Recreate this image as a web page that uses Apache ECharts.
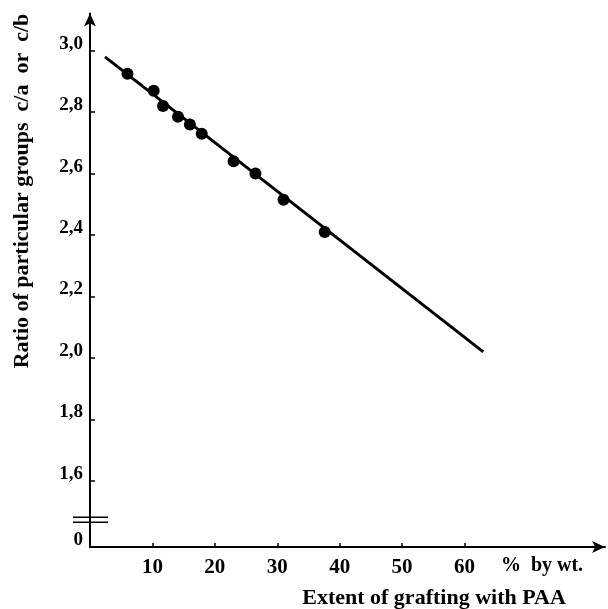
<!DOCTYPE html>
<html>
<head>
<meta charset="utf-8">
<script src="https://cdn.jsdelivr.net/npm/echarts@6/dist/echarts.min.js"></script>
<style>
  html, body { margin: 0; padding: 0; background: #fff; }
  #main { width: 608px; height: 609px; }
</style>
</head>
<body>
<div id="main"></div>
<script>
// measured points: grafting extent (% by wt.) vs ratio c/a or c/b
var graftX = [6.0, 10.2, 11.7, 14.1, 16.0, 17.9, 23.0, 26.5, 31.0, 37.6];
var ratioY = [2.925, 2.87, 2.82, 2.785, 2.76, 2.73, 2.64, 2.60, 2.515, 2.41];
// straight fitted line, its two ends
var lineX = [2.4, 63.0];
var lineY = [2.98, 2.02];
var xTicks = [10, 20, 30, 40, 50, 60];
var yTicks = [1.6, 1.8, 2.0, 2.2, 2.4, 2.6, 2.8, 3.0];
var yZero = 1.385;     // where the broken axis shows "0"
var yBreak = 1.474;    // position of the = break mark

var font = 'Liberation Serif';

var myChart = echarts.init(document.getElementById('main'));

var points = graftX.map(function (x, i) { return [x, ratioY[i]]; });
var fitLine = lineX.map(function (x, i) { return [x, lineY[i]]; });

var option = {
  backgroundColor: '#fff',
  animation: false,
  grid: { left: 90, right: 3, top: 13.5, bottom: 62 },
  xAxis: {
    type: 'value',
    min: 0,
    max: 82.5,
    splitLine: { show: false },
    axisLine: { onZero: false, symbol: ['none', 'arrow'], symbolSize: [9, 13], lineStyle: { color: '#000', width: 2 } },
    axisTick: { inside: true, length: 4, customValues: xTicks, lineStyle: { color: '#000', width: 1.5 } },
    axisLabel: {
      customValues: xTicks, margin: 10,
      color: '#000', fontFamily: font, fontWeight: 'bold', fontSize: 21
    }
  },
  yAxis: {
    type: 'value',
    min: 1.385,
    max: 3.121,
    splitLine: { show: false },
    axisLine: { onZero: false, symbol: ['none', 'arrow'], symbolSize: [9, 13], lineStyle: { color: '#000', width: 2 } },
    axisTick: { inside: true, length: 5, customValues: yTicks, lineStyle: { color: '#000', width: 1.5 } },
    axisLabel: {
      customValues: [yZero].concat(yTicks), margin: 7,
      verticalAlign: 'bottom', lineHeight: 14,
      color: '#000', fontFamily: font, fontWeight: 'bold', fontSize: 19,
      formatter: function (v) {
        if (Math.abs(v - yZero) < 1e-6) return '0';
        return v.toFixed(1).replace('.', ',');
      }
    }
  },
  series: [{
    type: 'line',
    data: fitLine,
    showSymbol: false,
    lineStyle: { color: '#000', width: 3 }
  }, {
    type: 'scatter',
    data: points,
    symbolSize: 12,
    itemStyle: { color: '#000', opacity: 1 }
  }],
  graphic: [{
    id: 'ytitle', type: 'text', x: 22, y: 191, rotation: Math.PI / 2,
    style: {
      text: 'Ratio of particular groups  c/a  or  c/b',
      fill: '#000', font: 'bold 22px "Liberation Serif"',
      align: 'center', verticalAlign: 'middle'
    }
  }, {
    id: 'unit', type: 'text', x: 542, y: 566,
    style: {
      text: '%  by wt.', fill: '#000', font: 'bold 20px "Liberation Serif"',
      align: 'center', verticalAlign: 'middle'
    }
  }, {
    id: 'xtitle', type: 'text', x: 434, y: 598,
    style: {
      text: 'Extent of grafting with PAA', fill: '#000', font: 'bold 22px "Liberation Serif"',
      align: 'center', verticalAlign: 'middle'
    }
  }]
};
myChart.setOption(option);

// the "=" break mark across the y axis
var bx = myChart.convertToPixel({ xAxisIndex: 0 }, 0);
var by = myChart.convertToPixel({ yAxisIndex: 0 }, yBreak);
myChart.setOption({
  graphic: [{
    id: 'gap', type: 'rect', shape: { x: bx - 4, y: by - 2, width: 8, height: 4 },
    style: { fill: '#fff' }
  }, {
    id: 'brk1', type: 'line', shape: { x1: bx - 17, y1: by - 2.5, x2: bx + 18, y2: by - 2.5 },
    style: { stroke: '#000', lineWidth: 1.5 }
  }, {
    id: 'brk2', type: 'line', shape: { x1: bx - 17, y1: by + 2.5, x2: bx + 18, y2: by + 2.5 },
    style: { stroke: '#000', lineWidth: 1.5 }
  }]
});
</script>
</body>
</html>
